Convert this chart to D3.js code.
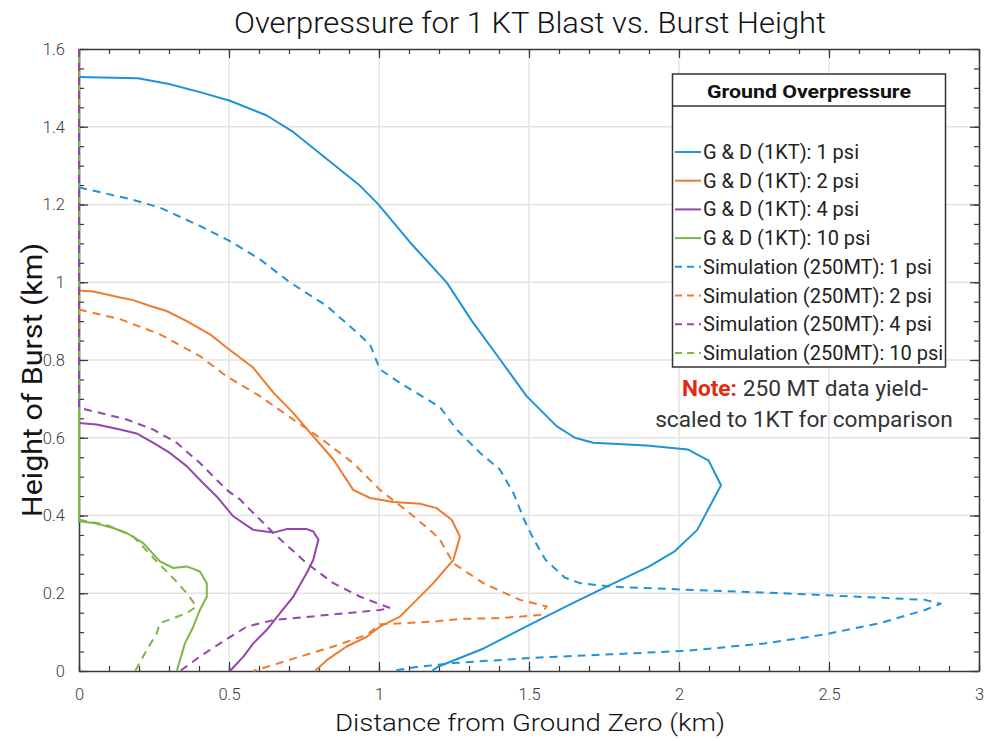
<!DOCTYPE html>
<html><head><meta charset="utf-8">
<script src="https://cdn.jsdelivr.net/npm/d3@7/dist/d3.min.js"></script>
<style>
html,body{margin:0;padding:0;background:#fff;}
text{font-family:Roboto,"Liberation Sans",Arial,sans-serif;}
</style></head>
<body><svg id="chart" width="986" height="741"></svg>
<script>
// ---- data ----
const xTicks = [0, 0.5, 1, 1.5, 2, 2.5, 3];
const yTicks = [0, 0.2, 0.4, 0.6, 0.8, 1, 1.2, 1.4, 1.6];
const xTickLabels = ["0", "0.5", "1", "1.5", "2", "2.5", "3"];
const yTickLabels = ["0", "0.2", "0.4", "0.6", "0.8", "1", "1.2", "1.4", "1.6"];
const seriesNames = ["G & D (1KT): 1 psi", "G & D (1KT): 2 psi", "G & D (1KT): 4 psi", "G & D (1KT): 10 psi",
  "Simulation (250MT): 1 psi", "Simulation (250MT): 2 psi", "Simulation (250MT): 4 psi", "Simulation (250MT): 10 psi"];

const gd1 = [[0,1.528],[0.197,1.525],[0.30,1.51],[0.403,1.489],[0.503,1.467],[0.626,1.429],[0.715,1.386],[0.826,1.317],[0.937,1.248],[0.997,1.201],[1.103,1.103],[1.226,0.999],[1.31,0.90],[1.403,0.802],[1.492,0.707],[1.592,0.630],[1.653,0.600],[1.714,0.587],[1.892,0.580],[2.029,0.570],[2.099,0.541],[2.14,0.478],[2.061,0.363],[1.984,0.307],[1.901,0.269],[1.773,0.222],[1.644,0.174],[1.49,0.114],[1.349,0.058],[1.196,0.011],[1.177,0]];
const gd2 = [[0,0.979],[0.048,0.976],[0.137,0.961],[0.181,0.954],[0.237,0.939],[0.292,0.926],[0.359,0.900],[0.437,0.866],[0.492,0.832],[0.581,0.780],[0.648,0.716],[0.714,0.664],[0.77,0.613],[0.848,0.544],[0.914,0.466],[0.97,0.445],[1.048,0.435],[1.137,0.430],[1.192,0.419],[1.242,0.389],[1.27,0.346],[1.248,0.286],[1.181,0.226],[1.114,0.174],[1.07,0.140],[1.003,0.114],[0.959,0.088],[0.892,0.063],[0.826,0.028],[0.787,0]];
const gd4 = [[0,0.638],[0.059,0.634],[0.137,0.621],[0.192,0.611],[0.248,0.587],[0.303,0.561],[0.359,0.527],[0.414,0.483],[0.459,0.449],[0.514,0.398],[0.581,0.363],[0.648,0.356],[0.692,0.365],[0.759,0.365],[0.781,0.359],[0.798,0.338],[0.781,0.286],[0.759,0.252],[0.714,0.191],[0.670,0.149],[0.626,0.106],[0.581,0.071],[0.548,0.037],[0.503,0]];
const gd10 = [[0,1.6],[0,0.385],[0.048,0.381],[0.114,0.368],[0.159,0.355],[0.214,0.329],[0.27,0.282],[0.314,0.265],[0.359,0.269],[0.403,0.256],[0.426,0.226],[0.426,0.191],[0.403,0.157],[0.381,0.114],[0.353,0.071],[0.326,0]];
const sim1 = [[0,1.244],[0.17,1.214],[0.27,1.192],[0.403,1.145],[0.503,1.106],[0.603,1.059],[0.703,1.0],[0.826,0.939],[0.903,0.887],[0.97,0.84],[1.003,0.776],[1.07,0.741],[1.203,0.679],[1.259,0.621],[1.337,0.561],[1.403,0.518],[1.448,0.458],[1.484,0.389],[1.516,0.338],[1.555,0.286],[1.62,0.24],[1.67,0.226],[1.773,0.217],[2.029,0.209],[2.285,0.202],[2.542,0.193],[2.82,0.183],[2.872,0.173],[2.82,0.157],[2.67,0.123],[2.478,0.093],[2.285,0.071],[2.029,0.052],[1.773,0.043],[1.516,0.034],[1.26,0.021],[1.132,0.011],[1.042,0]];
const sim2 = [[0,0.93],[0.02,0.926],[0.137,0.905],[0.27,0.866],[0.403,0.810],[0.492,0.758],[0.603,0.707],[0.714,0.647],[0.803,0.600],[0.914,0.535],[1.003,0.466],[1.103,0.406],[1.181,0.355],[1.203,0.338],[1.248,0.277],[1.348,0.226],[1.47,0.183],[1.559,0.166],[1.537,0.144],[1.403,0.136],[1.27,0.134],[1.181,0.127],[1.003,0.12],[0.959,0.093],[0.848,0.063],[0.737,0.037],[0.581,0]];
const sim4 = [[0,1.6],[0,0.677],[0.059,0.666],[0.159,0.647],[0.248,0.621],[0.326,0.587],[0.403,0.535],[0.492,0.466],[0.537,0.441],[0.57,0.415],[0.648,0.355],[0.759,0.277],[0.848,0.226],[0.937,0.191],[1.037,0.162],[1.003,0.157],[0.826,0.144],[0.648,0.131],[0.559,0.114],[0.47,0.071],[0.403,0.037],[0.337,0]];
const sim10 = [[0,0.389],[0.092,0.376],[0.181,0.346],[0.27,0.273],[0.314,0.239],[0.359,0.2],[0.392,0.166],[0.359,0.149],[0.27,0.123],[0.259,0.097],[0.226,0.054],[0.187,0]];

const seriesData = [gd1, gd2, gd4, gd10, sim1, sim2, sim4, sim10];
const colors = ["#1f93d6", "#ee7a30", "#9346ab", "#7cb646", "#1f93d6", "#ee7a30", "#9346ab", "#7cb646"];
const dashed = [false, false, false, false, true, true, true, true];

// ---- layout ----
const svg = d3.select("#chart");
const L = 79, R = 979, T = 49, B = 671;
const x = d3.scaleLinear().domain([0, 3]).range([L, R]);
const y = d3.scaleLinear().domain([0, 1.6]).range([B, T]);

// grid
const grid = svg.append("g");
grid.selectAll("line.gx").data(xTicks.slice(1, -1)).enter().append("line")
  .attr("x1", d => x(d)).attr("x2", d => x(d)).attr("y1", T).attr("y2", B)
  .attr("stroke", "#e3e3e3").attr("stroke-width", 1.5);
grid.selectAll("line.gy").data(yTicks.slice(1, -1)).enter().append("line")
  .attr("y1", d => y(d)).attr("y2", d => y(d)).attr("x1", L).attr("x2", R)
  .attr("stroke", "#e3e3e3").attr("stroke-width", 1.5);

// axes
const axisColor = "#3a3a3a";
const xMinor = d3.range(0, 3.0001, 0.1);
const yMinor = d3.range(0, 1.6001, 0.05);
function styleAxis(g) {
  g.select(".domain").attr("stroke", axisColor).attr("stroke-width", 1.6);
  g.selectAll(".tick line").attr("stroke", axisColor).attr("stroke-width", 1.2);
  g.selectAll(".tick text").attr("fill", "#3c3c3c").attr("font-size", 16.5).attr("font-weight", 300);
}
function minor(g) {
  g.select(".domain").remove();
  g.selectAll("line").attr("stroke", axisColor).attr("stroke-width", 1.2);
}
svg.append("g").attr("transform", `translate(0,${B})`)
  .call(d3.axisBottom(x).tickValues(xMinor).tickSize(-5).tickFormat("")).call(minor);
svg.append("g").attr("transform", `translate(0,${T})`)
  .call(d3.axisTop(x).tickValues(xMinor).tickSize(-5).tickFormat("")).call(minor);
svg.append("g").attr("transform", `translate(${L},0)`)
  .call(d3.axisLeft(y).tickValues(yMinor).tickSize(-5).tickFormat("")).call(minor);
svg.append("g").attr("transform", `translate(${R},0)`)
  .call(d3.axisRight(y).tickValues(yMinor).tickSize(-5).tickFormat("")).call(minor);

// major axes
svg.append("g").attr("transform", `translate(0,${B})`)
  .call(d3.axisBottom(x).tickValues(xTicks).tickSize(-9).tickPadding(17).tickSizeOuter(0)
    .tickFormat((d, i) => xTickLabels[i]))
  .call(styleAxis);
svg.append("g").attr("transform", `translate(0,${T})`)
  .call(d3.axisTop(x).tickValues(xTicks).tickSize(-9).tickSizeOuter(0).tickFormat(""))
  .call(styleAxis);
svg.append("g").attr("transform", `translate(${L},0)`)
  .call(d3.axisLeft(y).tickValues(yTicks).tickSize(-9).tickPadding(14).tickSizeOuter(0)
    .tickFormat((d, i) => yTickLabels[i]))
  .call(styleAxis);
svg.append("g").attr("transform", `translate(${R},0)`)
  .call(d3.axisRight(y).tickValues(yTicks).tickSize(-9).tickSizeOuter(0).tickFormat(""))
  .call(styleAxis);

// curves
const line = d3.line().x(d => x(d[0])).y(d => y(d[1]));
svg.append("g").selectAll("path").data(seriesData).enter().append("path")
  .attr("d", d => line(d))
  .attr("fill", "none")
  .attr("stroke", (d, i) => colors[i])
  .attr("stroke-width", 2)
  .attr("stroke-linejoin", "round")
  .attr("stroke-dasharray", (d, i) => dashed[i] ? "8,6" : null);

// title & labels
svg.append("text").attr("x", 530).attr("y", 33).attr("text-anchor", "middle")
  .attr("font-size", 30).attr("font-weight", 300).attr("fill", "#111")
  .attr("textLength", 592).attr("lengthAdjust", "spacingAndGlyphs")
  .text("Overpressure for 1 KT Blast vs. Burst Height");
svg.append("text").attr("x", 530).attr("y", 731).attr("text-anchor", "middle")
  .attr("font-size", 24).attr("font-weight", 300).attr("fill", "#111")
  .attr("textLength", 390).attr("lengthAdjust", "spacingAndGlyphs")
  .text("Distance from Ground Zero (km)");
svg.append("text").attr("transform", "translate(42,380) rotate(-90)").attr("text-anchor", "middle")
  .attr("font-size", 28).attr("font-weight", 400).attr("fill", "#151515")
  .attr("textLength", 274).attr("lengthAdjust", "spacingAndGlyphs")
  .text("Height of Burst (km)");

// legend
const lg = svg.append("g");
lg.append("rect").attr("x", 672.5).attr("y", 74).attr("width", 273).attr("height", 293)
  .attr("fill", "#fff").attr("stroke", "#333").attr("stroke-width", 1.5);
lg.append("line").attr("x1", 672.5).attr("x2", 945.5).attr("y1", 106).attr("y2", 106)
  .attr("stroke", "#333").attr("stroke-width", 1.5);
lg.append("text").attr("x", 809).attr("y", 98).attr("text-anchor", "middle")
  .attr("font-size", 19).attr("font-weight", 700).attr("fill", "#111")
  .attr("textLength", 204).attr("lengthAdjust", "spacingAndGlyphs")
  .text("Ground Overpressure");
const rowY = i => 152 + i * 28.7;
seriesNames.forEach((name, i) => {
  lg.append("line").attr("x1", 675).attr("x2", 701).attr("y1", rowY(i)).attr("y2", rowY(i))
    .attr("stroke", colors[i]).attr("stroke-width", 2)
    .attr("stroke-dasharray", dashed[i] ? "7,5" : null);
  lg.append("text").attr("x", 703).attr("y", rowY(i) + 7)
    .attr("font-size", 20).attr("fill", "#222").text(name);
});

// note
const note = svg.append("text").attr("x", 805).attr("y", 396).attr("text-anchor", "middle")
  .attr("font-size", 22.7).attr("fill", "#333");
note.append("tspan").attr("fill", "#e62a10").attr("font-weight", 700).text("Note:");
note.append("tspan").text(" 250 MT data yield-");
svg.append("text").attr("x", 804).attr("y", 427).attr("text-anchor", "middle")
  .attr("font-size", 22.7).attr("fill", "#333").text("scaled to 1KT for comparison");
</script></body></html>
